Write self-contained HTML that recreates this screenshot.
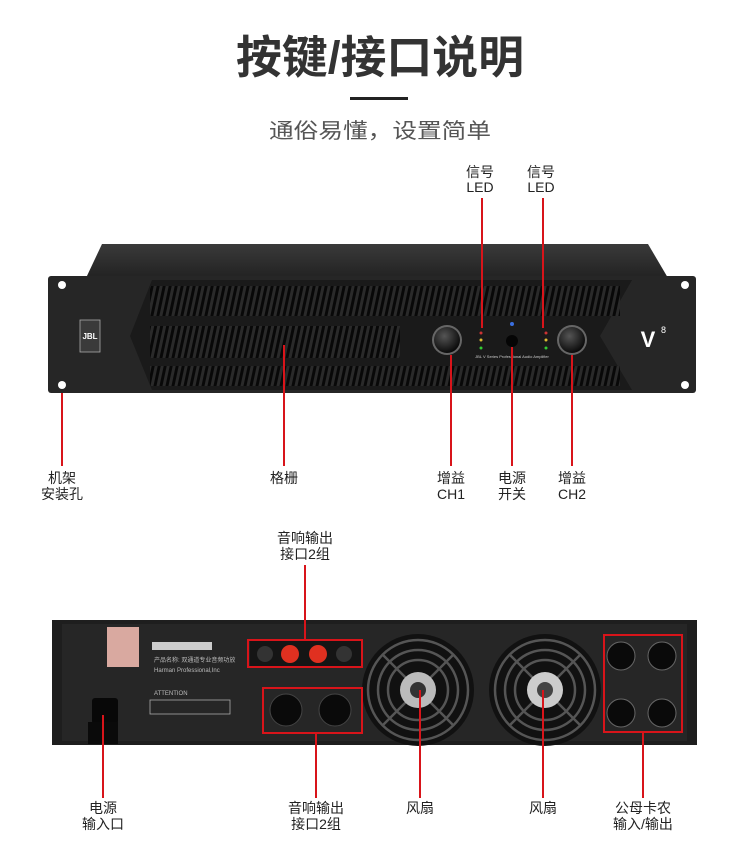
<!DOCTYPE html>
<html><head><meta charset="utf-8"><style>
html,body{margin:0;padding:0;background:#fff;}
svg{display:block;}
text{font-family:"Liberation Sans","Noto Sans CJK SC",sans-serif;}
</style></head><body>
<svg width="750" height="868" viewBox="0 0 750 868" xmlns="http://www.w3.org/2000/svg">
<defs>
<pattern id="slots" width="6" height="40" patternUnits="userSpaceOnUse" patternTransform="skewX(-12)">
<rect width="6" height="40" fill="#2a2a2a"/><rect x="1.5" width="3" height="40" fill="#080808"/>
</pattern>
<radialGradient id="knob" cx="40%" cy="35%" r="70%"><stop offset="0" stop-color="#555"/><stop offset="1" stop-color="#050505"/></radialGradient>
<linearGradient id="top" x1="0" y1="0" x2="0" y2="1"><stop offset="0" stop-color="#3a3a3a"/><stop offset="1" stop-color="#222"/></linearGradient>
</defs>
<!-- Title -->
<text x="380" y="73" font-size="45" font-weight="bold" fill="#333" text-anchor="middle" textLength="288" lengthAdjust="spacingAndGlyphs">按键/接口说明</text>
<rect x="350" y="97" width="58" height="3" fill="#222"/>
<text x="380" y="138" font-size="21" fill="#555" text-anchor="middle" textLength="222" lengthAdjust="spacingAndGlyphs">通俗易懂，设置简单</text>

<!-- FRONT -->
<polygon points="102,244 648,244 668,278 86,278" fill="url(#top)"/>
<rect x="48" y="276" width="648" height="117" rx="3" fill="#262626"/>
<circle cx="62" cy="285" r="4" fill="#fff"/><circle cx="62" cy="385" r="4" fill="#fff"/>
<circle cx="685" cy="285" r="4" fill="#fff"/><circle cx="685" cy="385" r="4" fill="#fff"/>
<polygon points="152,280 632,280 600,336 632,390 152,390 130,336" fill="#1a1a1a"/>
<rect x="150" y="286" width="470" height="30" fill="url(#slots)"/>
<rect x="150" y="326" width="250" height="32" fill="url(#slots)"/>
<rect x="150" y="366" width="470" height="20" fill="url(#slots)"/>
<rect x="80" y="320" width="20" height="32" fill="#3a3a3a" stroke="#aaa" stroke-width="0.8"/>
<text x="90" y="339" font-size="8" fill="#fff" text-anchor="middle" font-weight="bold">JBL</text>
<text x="648" y="347" font-size="22" font-weight="bold" fill="#fff" text-anchor="middle">V</text>
<text x="661" y="333" font-size="9" fill="#fff">8</text>
<circle cx="447" cy="340" r="15" fill="#666"/><circle cx="447" cy="340" r="13" fill="url(#knob)"/>
<circle cx="572" cy="340" r="15" fill="#666"/><circle cx="572" cy="340" r="13" fill="url(#knob)"/>
<circle cx="512" cy="341" r="6" fill="#050505"/>
<circle cx="512" cy="324" r="2" fill="#3a6fe0"/>
<circle cx="481" cy="333" r="1.5" fill="#c33"/><circle cx="481" cy="340" r="1.5" fill="#db3"/><circle cx="481" cy="348" r="1.5" fill="#3c3"/>
<circle cx="546" cy="333" r="1.5" fill="#c33"/><circle cx="546" cy="340" r="1.5" fill="#db3"/><circle cx="546" cy="348" r="1.5" fill="#3c3"/>
<text x="512" y="358" font-size="4" fill="#ccc" text-anchor="middle">JBL V Series Professional Audio Amplifier</text>

<g stroke="#d8141a" stroke-width="2">
<line x1="482" y1="198" x2="482" y2="328"/><line x1="543" y1="198" x2="543" y2="328"/>
<line x1="62" y1="393" x2="62" y2="466"/><line x1="284" y1="345" x2="284" y2="466"/>
<line x1="451" y1="355" x2="451" y2="466"/><line x1="512" y1="347" x2="512" y2="466"/>
<line x1="572" y1="355" x2="572" y2="466"/>
</g>
<g font-size="14" fill="#222" text-anchor="middle">
<text x="480" y="177">信号</text><text x="480" y="192">LED</text>
<text x="541" y="177">信号</text><text x="541" y="192">LED</text>
<text x="62" y="483">机架</text><text x="62" y="499">安装孔</text>
<text x="284" y="483">格栅</text>
<text x="451" y="483">增益</text><text x="451" y="499">CH1</text>
<text x="512" y="483">电源</text><text x="512" y="499">开关</text>
<text x="572" y="483">增益</text><text x="572" y="499">CH2</text>
</g>

<!-- REAR -->
<rect x="52" y="620" width="645" height="125" fill="#1e1e1e"/>
<rect x="62" y="624" width="625" height="117" fill="#262626"/>
<rect x="107" y="627" width="32" height="40" fill="#d9a9a0"/>
<rect x="152" y="642" width="60" height="8" fill="#ccc"/>
<g fill="#bbb" font-size="6"><text x="154" y="662">产品名称: 双通道专业音频功放</text><text x="154" y="672">Harman Professional,Inc</text><text x="154" y="695">ATTENTION</text></g>
<rect x="150" y="700" width="80" height="14" fill="none" stroke="#aaa" stroke-width="0.8"/>
<rect x="92" y="698" width="26" height="26" rx="3" fill="#080808"/>
<rect x="88" y="722" width="30" height="22" fill="#0a0a0a"/>
<circle cx="418" cy="690" r="56" fill="#111"/>
<circle cx="545" cy="690" r="56" fill="#111"/>
<g fill="none" stroke="#555" stroke-width="2.5">
<circle cx="418" cy="690" r="50"/><circle cx="418" cy="690" r="40"/><circle cx="418" cy="690" r="30"/>
<circle cx="545" cy="690" r="50"/><circle cx="545" cy="690" r="40"/><circle cx="545" cy="690" r="30"/>
<line x1="383" y1="655" x2="453" y2="725"/><line x1="453" y1="655" x2="383" y2="725"/>
<line x1="510" y1="655" x2="580" y2="725"/><line x1="580" y1="655" x2="510" y2="725"/>
</g>
<circle cx="418" cy="690" r="18" fill="#bbb"/><circle cx="418" cy="690" r="8" fill="#333"/>
<circle cx="545" cy="690" r="18" fill="#ccc"/><circle cx="545" cy="690" r="8" fill="#444"/>
<rect x="250" y="641" width="111" height="25" fill="#151515"/>
<circle cx="290" cy="654" r="9" fill="#e03020"/><circle cx="318" cy="654" r="9" fill="#e03020"/>
<circle cx="265" cy="654" r="8" fill="#333"/><circle cx="344" cy="654" r="8" fill="#333"/>
<circle cx="286" cy="710" r="16" fill="#0a0a0a" stroke="#444"/><circle cx="335" cy="710" r="16" fill="#0a0a0a" stroke="#444"/>
<g fill="#0a0a0a" stroke="#666">
<circle cx="621" cy="656" r="14"/><circle cx="662" cy="656" r="14"/>
<circle cx="621" cy="713" r="14"/><circle cx="662" cy="713" r="14"/>
</g>
<g fill="none" stroke="#d8141a" stroke-width="2">
<rect x="248" y="640" width="114" height="27"/>
<rect x="263" y="688" width="99" height="45"/>
<rect x="604" y="635" width="78" height="97"/>
</g>
<g stroke="#d8141a" stroke-width="2">
<line x1="305" y1="565" x2="305" y2="640"/>
<line x1="103" y1="715" x2="103" y2="798"/><line x1="316" y1="733" x2="316" y2="798"/>
<line x1="420" y1="690" x2="420" y2="798"/><line x1="543" y1="690" x2="543" y2="798"/>
<line x1="643" y1="732" x2="643" y2="798"/>
</g>
<g font-size="14" fill="#222" text-anchor="middle">
<text x="305" y="543">音响输出</text><text x="305" y="559">接口2组</text>
<text x="103" y="813">电源</text><text x="103" y="829">输入口</text>
<text x="316" y="813">音响输出</text><text x="316" y="829">接口2组</text>
<text x="420" y="813">风扇</text><text x="543" y="813">风扇</text>
<text x="643" y="813">公母卡农</text><text x="643" y="829">输入/输出</text>
</g>
</svg>
</body></html>
